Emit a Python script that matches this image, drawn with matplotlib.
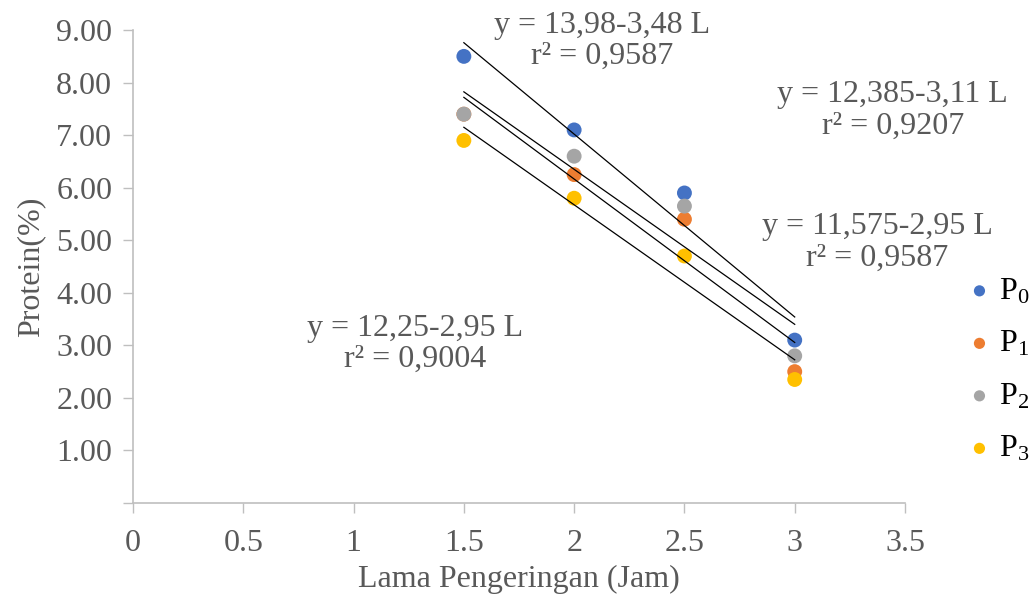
import numpy as np
import matplotlib
matplotlib.use("Agg")
import matplotlib.pyplot as plt

plt.rcParams["font.family"] = ["Liberation Serif", "DejaVu Serif"]
plt.rcParams["mathtext.fontset"] = "custom"
plt.rcParams["mathtext.rm"] = "Liberation Serif"
plt.rcParams["mathtext.it"] = "Liberation Serif:italic"

# Lama pengeringan (jam) and protein content (%) per perlakuan
hours = [1.5, 2.0, 2.5, 3.0]
p0 = [8.5, 7.1, 5.9, 3.1]
p1 = [7.4, 6.25, 5.4, 2.5]
p2 = [7.4, 6.6, 5.65, 2.8]
p3 = [6.9, 5.8, 4.7, 2.35]
series = [p0, p1, p2, p3]
names = [r"$\mathregular{P_0}$", r"$\mathregular{P_1}$",
         r"$\mathregular{P_2}$", r"$\mathregular{P_3}$"]
colors = ["#4472C4", "#ED7D31", "#A5A5A5", "#FFC000"]

equations = [
    ("y = 13,98-3,48 L\nr² = 0,9587", 2.126, 8.80),
    ("y = 12,385-3,11 L\nr² = 0,9207", 3.445, 7.47),
    ("y = 11,575-2,95 L\nr² = 0,9587", 3.373, 4.96),
    ("y = 12,25-2,95 L\nr² = 0,9004", 1.278, 3.03),
]

GRAY = "#595959"
AXIS = "#BFBFBF"
FS = 23

fig = plt.figure(figsize=(10.35, 6.02), dpi=100)
ax = fig.add_axes([0.1285, 0.1645, 0.7459, 0.7855])

for vals, name, c in zip(series, names, colors):
    ax.scatter(hours, vals, s=115, color=c, label=name, zorder=3,
               edgecolors="none")

# linear trendlines
x = np.array(hours)
for vals in series:
    slope, icpt = np.polyfit(x, vals, 1)
    ax.plot([x[0], x[-1]], [icpt + slope * x[0], icpt + slope * x[-1]],
            color="black", lw=0.9, zorder=4)

for txt, tx, ty in equations:
    ax.text(tx, ty, txt, ha="center", va="center", fontsize=FS,
            color=GRAY, linespacing=1.1)

ax.set_xlim(0, 3.5)
ax.set_ylim(0, 9)
ax.set_xticks(np.arange(0, 3.51, 0.5))
ax.set_xticklabels(["0", "0.5", "1", "1.5", "2", "2.5", "3", "3.5"])
ax.set_yticks(np.arange(0, 10))
ax.set_yticklabels([""] + [f"{v:.2f}" for v in range(1, 10)])
ax.tick_params(colors=AXIS, labelcolor=GRAY, labelsize=FS, length=7,
               width=1)
ax.tick_params(axis="x", pad=12)
ax.tick_params(axis="y", pad=8)
for side in ["top", "right"]:
    ax.spines[side].set_visible(False)
for side in ["left", "bottom"]:
    ax.spines[side].set_color(AXIS)
    ax.spines[side].set_linewidth(1.2)

ax.set_xlabel("Lama Pengeringan (Jam)", fontsize=FS, color=GRAY, labelpad=5)
ax.set_ylabel("Protein(%)", fontsize=FS, color=GRAY, labelpad=8)

ax.legend(loc="center left", bbox_to_anchor=(0.934, 0.385),
          bbox_transform=fig.transFigure, frameon=False, fontsize=FS,
          handletextpad=0.2, labelspacing=0.72, markerscale=0.75,
          handlelength=0.8, borderpad=0, borderaxespad=0)

fig.savefig("out.png", dpi=100)
